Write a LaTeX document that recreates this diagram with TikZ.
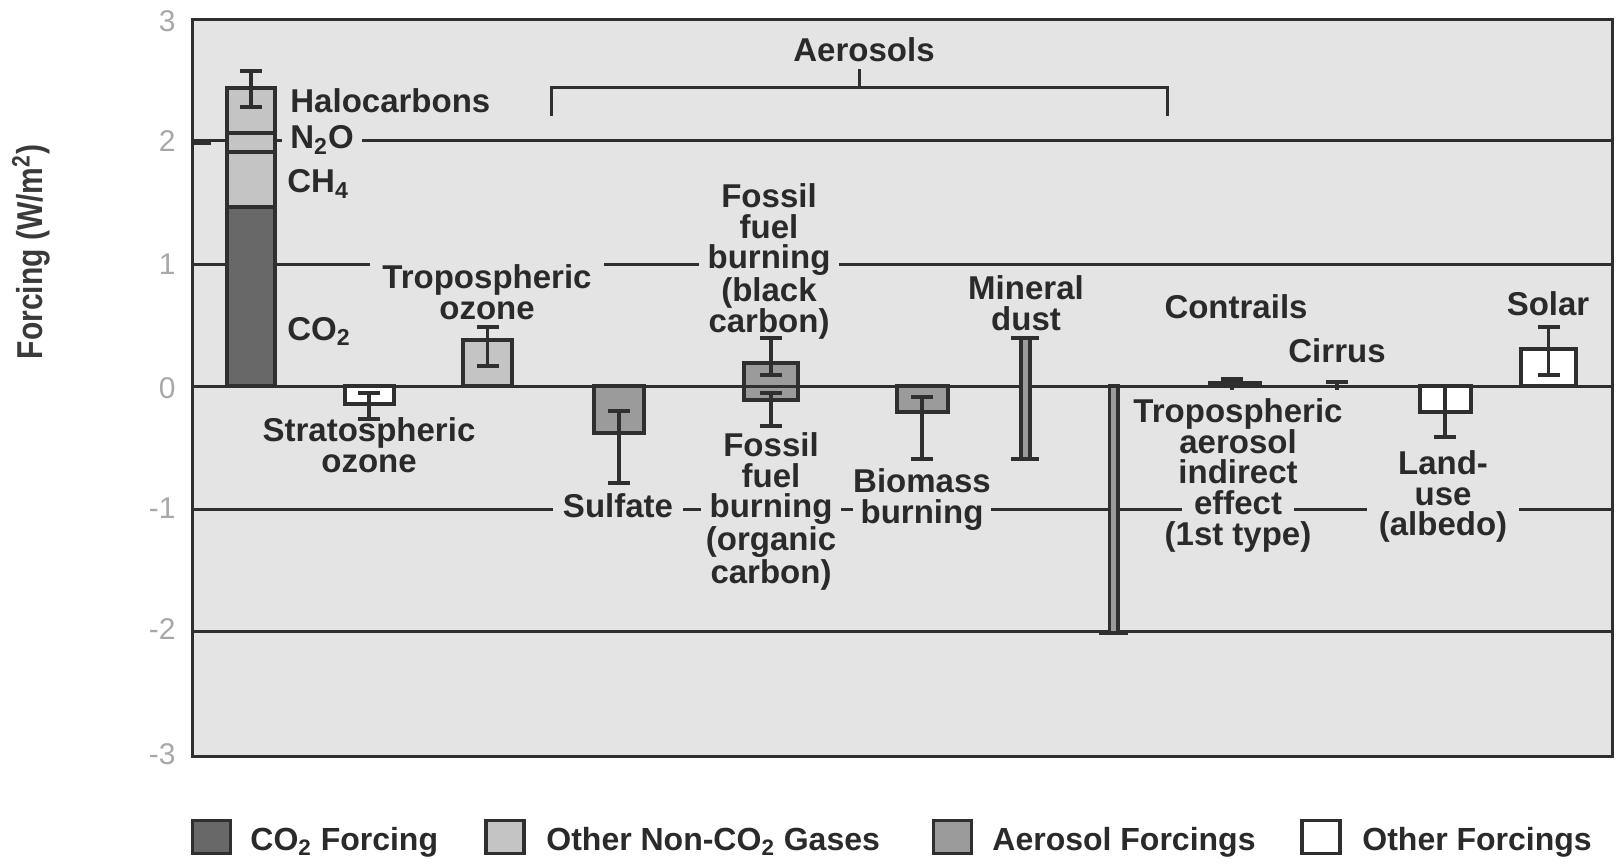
\documentclass[tikz,border=0pt]{standalone}
\usepackage{fontspec}
\setmainfont{Liberation Sans}
\definecolor{bgc}{HTML}{E4E4E4}
\definecolor{lc}{HTML}{2F2F2F}
\definecolor{tc}{HTML}{2A2A2A}
\definecolor{tkc}{HTML}{A8A8A8}
\definecolor{ytc}{HTML}{3A3A3A}
\definecolor{co2c}{HTML}{686868}
\definecolor{gasc}{HTML}{C4C4C4}
\definecolor{aerc}{HTML}{9B9B9B}
\newcommand{\onlinebox}[1]{{\setlength{\fboxsep}{0pt}\colorbox{bgc}{\hspace{6pt}#1\hspace{6pt}}}}
\newcommand{\errbar}[3]{\draw[eb] ({#1-11},#2) -- ({#1+11},#2) ({#1},#2) -- ({#1},#3) ({#1-11},#3) -- ({#1+11},#3);}
\tikzset{
  gl/.style={draw=lc, line width=1.5pt},
  bar/.style={draw=lc, line width=1.6pt},
  eb/.style={draw=lc, line width=1.8pt},
  lab/.style={text=tc, font=\bfseries\fontsize{16.5}{15.4}\selectfont, align=center, inner sep=0pt},
  gapfill/.style={fill=bgc, inner ysep=1pt},
  tick/.style={text=tkc, font=\fontsize{15}{15}\selectfont, anchor=east, inner sep=0pt},
  legbox/.style={draw=lc, line width=1.6pt, minimum width=19pt, minimum height=16.5pt, inner sep=0pt},
  legtxt/.style={text=tc, font=\bfseries\fontsize{16}{16}\selectfont, anchor=base west, inner sep=0pt}
}
\begin{document}
\begin{tikzpicture}[x=0.5pt,y=-0.5pt]
\useasboundingbox (0,0) rectangle (1616,866);
% plot area
\fill[bgc] (192,20) rectangle (1612,756);
\draw[gl] (192,140.5) -- (1612,140.5);
\draw[gl] (192,265) -- (1612,265);
\draw[gl] (192,509.5) -- (1612,509.5);
\draw[gl] (192,631) -- (1612,631);
\draw[lc, line width=2.5pt] (192,143) -- (211,143);
% tick labels
\node[tick] (t3) at (176,21) {3};
\node[tick] (t2) at (176,141) {2};
\node[tick] (t1) at (176,264) {1};
\node[tick] (t0) at (176,388) {0};
\node[tick] (tm1) at (176,508) {-1};
\node[tick] (tm2) at (176,629) {-2};
\node[tick] (tm3) at (176,754) {-3};
% axis title
\node[rotate=90, font=\bfseries\fontsize{15}{15}\selectfont, text=ytc, inner sep=0pt] (ytitle) at (31,252) {\scalebox{1}[1.2]{Forcing (W/m\textsuperscript{2})}};
% labels
\node[lab, anchor=base] (aer) at (864,62) {Aerosols};
\node[lab, anchor=base west] (halo) at (290,113) {Halocarbons};
\node[lab, gapfill, anchor=base west, inner xsep=4pt] (n2o) at (282,149) {N\textsubscript{2}O};
\node[lab, anchor=base west] (ch4) at (287,193) {CH\textsubscript{4}};
\node[lab, anchor=base west] (co2) at (287,340) {CO\textsubscript{2}};
\node[lab, gapfill, anchor=north, inner xsep=6pt] (tro) at (487,262) {Tropospheric\\ozone};
\node[lab, anchor=north] (sto) at (369,417) {Stratospheric\\ozone};
\node[lab, gapfill, anchor=north, inner xsep=4.5pt] (bc) at (769,181) {Fossil\\fuel\\burning\\(black\\carbon)};
\node[lab, gapfill, anchor=base, inner xsep=5pt] (sul) at (618,517) {Sulfate};
\node[lab, gapfill, anchor=north, inner xsep=2.5pt] (oc) at (771,430) {Fossil\\fuel\\burning\\(organic\\carbon)};
\node[lab, gapfill, anchor=north, inner xsep=0pt] (bio) at (922,466) {Biomass\\burning};
\node[lab, anchor=north] (dust) at (1026,275) {Mineral\\dust};
\node[lab, anchor=base] (con) at (1236,318) {Contrails};
\node[lab, anchor=base] (cir) at (1337,362) {Cirrus};
\node[lab, anchor=base] (sol) at (1548,315) {Solar};
\node[lab, anchor=north] (tai) at (1238,398) {Tropospheric\\aerosol\\indirect\\\onlinebox{effect}\\(1st type)};
\node[lab, gapfill, anchor=north, inner xsep=6pt] (land) at (1443,448) {Land-\\use\\(albedo)};
% aerosols bracket
\coordinate (brL) at (551,116);
\coordinate (brR) at (1167,116);
\coordinate (brM) at (859,88);
\draw[gl] (brL) -- (brL |- brM) -- (brR |- brM) -- (brR);
\draw[gl] (brM |- 0,69) -- (brM);
% CO2 stacked bar
\draw[bar, fill=co2c] (227,207) rectangle (275,386);
\draw[bar, fill=gasc] (227,88) rectangle (275,207);
\draw[bar] (227,152) -- (275,152) (227,133) -- (275,133);
\errbar{251}{71}{107}
% stratospheric ozone
\draw[bar, fill=white] (345,386) rectangle (394,404);
\errbar{369}{393}{419}
% tropospheric ozone
\draw[bar, fill=gasc] (463,340) rectangle (512,386);
\errbar{487.5}{327}{366}
% sulfate
\draw[bar, fill=aerc] (594,386) rectangle (644,433);
\errbar{619}{411}{483}
% fossil fuel
\draw[bar, fill=aerc] (744,363) rectangle (798,400);
\errbar{771}{338}{375}
\errbar{771}{393}{426}
% biomass
\draw[bar, fill=aerc] (897,386) rectangle (948,412);
\errbar{922}{397}{459}
% land use
\draw[bar, fill=white] (1420,386) rectangle (1471,412);
\draw[eb] (1445,386) -- (1445,437) (1434,437) -- (1456,437);
% solar
\draw[bar, fill=white] (1521,349) rectangle (1576,386);
\errbar{1548.5}{327}{375}
% zero line
\draw[gl] (192,386) -- (1612,386);
% mineral dust
\draw[bar, fill=aerc] (1021,338) rectangle (1030,459);
\draw[eb] (1011,338) -- (1039,338) (1011,459) -- (1039,459);
% tropospheric aerosol indirect effect
\draw[bar, fill=aerc] (1109.5,386) rectangle (1118,633);
\draw[eb] (1099,633) -- (1128,633);
% contrails
\draw[bar, fill=white] (1210,382.5) rectangle (1260,386);
\draw[eb] (1221,379) -- (1243,379) (1232,379) -- (1232,390);
% cirrus
\draw[eb] (1326,382) -- (1348,382) (1337,382) -- (1337,390);
% frame
\draw[gl] (192,20) rectangle (1612,756);
% legend
\node[legbox, fill=co2c] (lb1) at (211.5,837) {};
\node[legtxt] (lt1) at (250,850) {CO\textsubscript{2} Forcing};
\node[legbox, fill=gasc] (lb2) at (505,837) {};
\node[legtxt] (lt2) at (546,850) {Other Non-CO\textsubscript{2} Gases};
\node[legbox, fill=aerc] (lb3) at (952.5,837) {};
\node[legtxt] (lt3) at (992,850) {Aerosol Forcings};
\node[legbox, fill=white] (lb4) at (1321,837) {};
\node[legtxt] (lt4) at (1362,850) {Other Forcings};
\end{tikzpicture}
\end{document}
